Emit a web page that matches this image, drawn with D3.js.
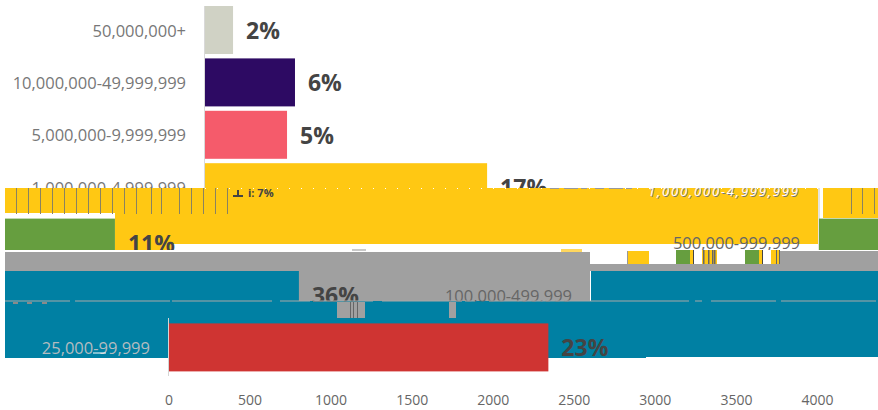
<!DOCTYPE html>
<html><head><meta charset="utf-8">
<script src="https://cdnjs.cloudflare.com/ajax/libs/d3/7.8.5/d3.min.js"></script>
<style>
html,body{margin:0;padding:0;background:#fff}
svg{display:block}
text{font-family:"Open Sans",sans-serif}
.lab{font-size:16.5px;fill:#777;text-anchor:end;dominant-baseline:central}
.pct{font-size:23px;font-weight:700;fill:#444;dominant-baseline:central}
</style></head><body><svg id="c" width="878" height="410"></svg>
<script>
// ---- chart data ----
const categories = ["50,000,000+","10,000,000-49,999,999","5,000,000-9,999,999","1,000,000-4,999,999","500,000-999,999","100,000-499,999","25,000-99,999"];
const counts = [173,555,506,1740,1042,3583,2340];
const percents = ["2%","6%","5%","17%","11%","36%","23%"];
const barColors = ["#d0d2c5","#2d0a63","#f55b6b","#ffc813","#669e3f","#0080a3","#cf3432"];
const tickValues = [0,500,1000,1500,2000,2500,3000,3500,4000];

const W=878,H=410,LEFT=5,WRAP=W-LEFT;
const svg=d3.select("#c");
const defs=svg.append("defs");
const x=d3.scaleLinear().domain([0,4000]).range([168.5,817]);
const y=d3.scaleBand().domain(d3.range(7)).range([6,6+7*52.4-4.4]).paddingInner(4.4/52.4).paddingOuter(0);

// The reference is a damaged image: each row is displaced sideways, wrapping round the frame.
const rowShift=[36.5,36.5,36.5,36.5,650.5,422.5,0.5];
const rowDrop=[0,0,0,0,3,3,3];
const rowClip=[[0,H],[0,H],[0,H],[0,188],[217.5,250],[271,301.5],[0,H]];
const rowWraps=[false,false,false,false,true,true,false];
const labelFill=["#777","#777","#777","#777","#666","#666","#b4bcc0"];

rowClip.forEach((c,i)=>{
  defs.append("clipPath").attr("id","r"+i).append("rect").attr("x",LEFT).attr("y",c[0]).attr("width",W-LEFT).attr("height",c[1]-c[0]);
});
function rect(x0,y0,x1,y1,fill,p){return (p||svg).append("rect").attr("x",x0).attr("y",y0).attr("width",x1-x0).attr("height",y1-y0).attr("fill",fill);}
function drawRow(i){
  const outer=svg.append("g").attr("clip-path",`url(#r${i})`);
  const cy=y(i)+y.bandwidth()/2;
  const bar=s=>outer.append("rect").attr("transform",`translate(${s},${rowDrop[i]})`).attr("x",x(0)).attr("y",y(i)).attr("width",x(counts[i])-x(0)).attr("height",y.bandwidth()).attr("fill",barColors[i]);
  bar(rowShift[i]);
  if(rowWraps[i]) bar(rowShift[i]-WRAP);
  outer.append("text").attr("class","lab").attr("transform",`translate(${rowShift[i]},${rowDrop[i]})`).attr("x",x(0)-19).attr("y",cy).attr("fill",labelFill[i]).style("fill",labelFill[i]).text(categories[i]);
  const ps=rowWraps[i]?rowShift[i]-WRAP:rowShift[i];
  outer.append("text").attr("class","pct").attr("transform",`translate(${ps},${rowDrop[i]})`).attr("x",x(counts[i])+13).attr("y",cy).text(percents[i]);
}
const [yellow,green,teal]=[barColors[3],barColors[4],barColors[5]];
const gray="#a0a0a0",rule="#d9d9d9",dark="#666";

// axis line of the undamaged part
rect(204,6,205,188,rule);
[0,1,2,3].forEach(drawRow);

// ---- damage: stretched slab of the yellow row ----
rect(5,188,820,213,yellow);
rect(115,213,820,244,yellow);
rect(115,244,173,250,yellow);
rect(820,188,878,218,"#fff");
rect(823,188,878,218,yellow);
svg.append("line").attr("x1",205).attr("x2",820).attr("y1",188.5).attr("y2",188.5).attr("stroke","#fff").attr("stroke-dasharray","1 11");
svg.append("line").attr("x1",550).attr("x2",640).attr("y1",188.5).attr("y2",188.5).attr("stroke","#999").attr("stroke-dasharray","9 5 14 3 6 8");
[16,28,40,52,64,76,88,100,112,124,136,151,161,179,191,203,215,227,851,862,874].forEach(t=>rect(t,188,t+1,214,"#8a8260"));
rect(233,195,243,197,"#444"); rect(237,190,239,195,"#444");
svg.append("text").attr("x",248).attr("y",197).attr("font-size",11).attr("font-weight",700).attr("fill","#444").text("i: 7%");
svg.append("text").attr("x",648).attr("y",196).attr("font-size",13).attr("font-style","italic").attr("fill","#777").attr("textLength",150).attr("dx",.7).attr("dy",.7).text(categories[3]);
svg.append("text").attr("x",648).attr("y",196).attr("font-size",13).attr("font-style","italic").attr("fill","#fff").attr("textLength",150).text(categories[3]);
rect(818,188,820,250,"#e4e4e0");

// grey slab behind the lower rows
rect(5,252,590,302,gray);
rect(590,264,878,271,gray);
rect(780,251,878,264,gray);
// scattered fragments of the green row
rect(352,249,366,251,"#c9c9c9");
rect(561,249,582,252,"#ffd75e");
rect(628,251,649,264,yellow); rect(627,251,628,264,"#999");
[676,745].forEach(o=>{rect(o,250,o+14,264,green);rect(o+14,250,o+17,264,yellow);rect(o+17,250,o+18,264,"#444");});
rect(702,250,717,264,yellow);
[703,708,712,714].forEach(t=>rect(t,250,t+1.5,264,"#666"));
rect(771,250,780,264,yellow);
[776,779].forEach(t=>rect(t,250,t+1,264,"#666"));

drawRow(4);

// teal body spreading through the lower rows
rect(5,301,878,357,teal);
rect(5,357,646,358,teal);
drawRow(5);
svg.append("line").attr("x1",5).attr("x2",878).attr("y1",301).attr("y2",301).attr("stroke","#a8a8a8").attr("stroke-width",1.2).attr("stroke-dasharray","65 5 95 2 100 8 30 3 60 9 80 3 10 14 200 6 7 9");
[13,27,42].forEach(t=>rect(t,302,t+5,304,"#8a8a8a"));
// grey blocks left inside the teal
rect(337,302,365,318,gray);
rect(449,302,456,318,gray);
[350,353,357].forEach(t=>rect(t,302,t+1,318,"#666"));

// red row with its own axis stub
rect(168,318,169,376,"#d5d5d5");
drawRow(6);
svg.append("line").attr("x1",93).attr("x2",106).attr("y1",353).attr("y2",353).attr("stroke","#fff");

// x axis
const axis=svg.append("g").attr("transform","translate(0,387)")
  .call(d3.axisBottom(x).tickValues(tickValues).tickSize(0).tickPadding(8).tickFormat(d3.format("d")));
axis.select(".domain").remove();
axis.selectAll("text").attr("font-family",'"Open Sans",sans-serif').attr("font-size",14).attr("fill",dark);
</script></body></html>
